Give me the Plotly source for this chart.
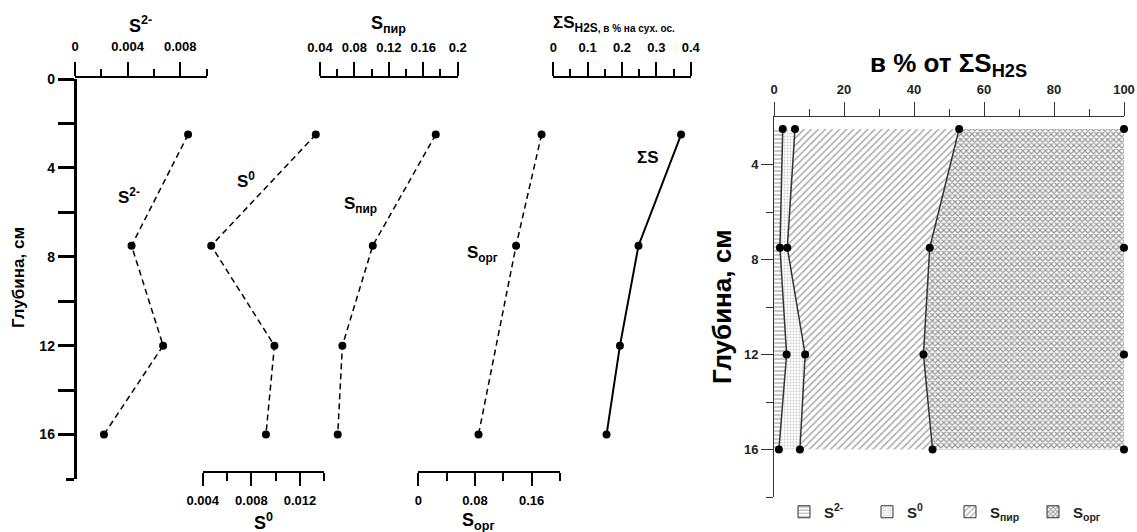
import plotly.graph_objects as go
import numpy as np

W, H = 1137, 532
def px(x): return x / W
def py(y): return 1 - y / H

FONT = "Arial, Liberation Sans, sans-serif"

# ---------------- data ----------------
depth = [2.5, 7.5, 12, 16]
s2 = [0.0086, 0.0043, 0.0067, 0.0022]          # S2-
s0 = [0.0133, 0.0047, 0.0099, 0.0092]          # S0
spir = [0.1745, 0.1013, 0.066, 0.0606]         # S pyr
sorg_depth = [2.5, 7.5, 16]
sorg = [0.174, 0.138, 0.085]                   # S org
ssum = [0.372, 0.248, 0.194, 0.155]            # sum S

pct_s2 = [2.5, 1.7, 3.6, 1.4]
pct_s0 = [3.5, 2.1, 5.3, 6.0]
pct_spir = [46.9, 40.7, 33.8, 37.9]
pct_sorg = [47.1, 55.5, 57.3, 54.7]

pct_names = ["S<sup>2-</sup>", "S<sup>0</sup>", "S<sub>пир</sub>", "S<sub>орг</sub>"]
patterns = [
    dict(shape="-", fgcolor="#444", bgcolor="white", size=4, solidity=0.3),
    dict(shape=".", fgcolor="#999", bgcolor="white", size=3, solidity=0.35),
    dict(shape="/", fgcolor="#555", bgcolor="white", size=5, solidity=0.3),
    dict(shape="x", fgcolor="#333", bgcolor="white", size=4, solidity=0.55),
]

fig = go.Figure()

dash_line = dict(color="black", width=1.5, dash="6px,4px")
mk = dict(color="black", size=8)

left_series = [(s2, depth, "x"), (s0, depth, "x2"), (spir, depth, "x3"), (sorg, sorg_depth, "x4")]
for xs, ys, ax in left_series:
    fig.add_trace(go.Scatter(x=xs, y=ys, xaxis=ax, yaxis="y", mode="lines+markers",
                             line=dash_line, marker=mk, showlegend=False, cliponaxis=False))
fig.add_trace(go.Scatter(x=ssum, y=depth, xaxis="x5", yaxis="y", mode="lines+markers",
                         line=dict(color="black", width=2), marker=mk, showlegend=False,
                         cliponaxis=False))

# ---------------- right stacked percentage plot ----------------
pcts = [pct_s2, pct_s0, pct_spir, pct_sorg]
for vals, pat in zip(pcts, patterns):
    fig.add_trace(go.Scatter(x=vals, y=depth, xaxis="x6", yaxis="y2", stackgroup="pct",
                             orientation="h", mode="none", fillcolor="white",
                             fillpattern=pat, showlegend=False))
cum = np.cumsum(np.array(pcts), axis=0)
for k in range(4):
    fig.add_trace(go.Scatter(x=cum[k], y=depth, xaxis="x6", yaxis="y2",
                             mode="lines+markers" if k < 3 else "markers",
                             line=dict(color="#333", width=1.5),
                             marker=dict(color="black", size=8),
                             showlegend=False, cliponaxis=False))
for name, pat in zip(pct_names, patterns):
    fig.add_trace(go.Bar(x=[None], y=[None], name=name, xaxis="x6", yaxis="y2",
                         marker=dict(color="white", pattern=pat,
                                     line=dict(color="#333", width=1))))

tickfont = dict(family=FONT, size=13, color="black", weight="bold")
base = dict(showline=True, linecolor="black", linewidth=2, ticks="outside", tickcolor="black",
            tickwidth=2, ticklen=14, showgrid=False, zeroline=False, tickfont=tickfont,
            fixedrange=True, tickangle=0)

def minor(vals, ln=7, w=2, c="black"):
    return dict(tickvals=vals, ticks="outside", ticklen=ln, tickwidth=w, tickcolor=c)

fig.update_layout(
    width=W, height=H, autosize=False,
    margin=dict(l=0, r=0, t=0, b=0, pad=0, autoexpand=False),
    paper_bgcolor="white", plot_bgcolor="rgba(0,0,0,0)",
    font=dict(family=FONT, color="black"),
    xaxis=dict(base, domain=[px(75), px(206.5)], range=[0, 0.01], side="top", anchor="free",
               position=py(76.5), tickvals=[0, 0.004, 0.008], ticktext=["0", "0.004", "0.008"],
               ticklabelstandoff=5, minor=minor([0.002, 0.006, 0.01])),
    xaxis2=dict(base, domain=[px(202.7), px(324.3)], range=[0.004, 0.014], side="bottom",
                anchor="free", position=py(472), ticklen=13, ticklabelstandoff=3,
                tickvals=[0.004, 0.008, 0.012], ticktext=["0.004", "0.008", "0.012"],
                minor=minor([0.006, 0.01, 0.014], 8)),
    xaxis3=dict(base, domain=[px(320), px(457.7)], range=[0.04, 0.2], side="top", anchor="free",
                position=py(77), tickvals=[0.04, 0.08, 0.12, 0.16, 0.2],
                ticktext=["0.04", "0.08", "0.12", "0.16", "0.2"], ticklabelstandoff=5,
                minor=minor([0.06, 0.1, 0.14, 0.18])),
    xaxis4=dict(base, domain=[px(418.3), px(560)], range=[0, 0.2], side="bottom", anchor="free",
                position=py(472), ticklen=13, tickvals=[0, 0.08, 0.16], ticklabelstandoff=3,
                ticktext=["0", "0.08", "0.16"], minor=minor([0.04, 0.12, 0.2], 8)),
    xaxis5=dict(base, domain=[px(553.3), px(690.7)], range=[0, 0.4], side="top", anchor="free",
                position=py(77), tickvals=[0, 0.1, 0.2, 0.3, 0.4],
                ticktext=["0", "0.1", "0.2", "0.3", "0.4"], ticklabelstandoff=5,
                minor=minor([0.05, 0.15, 0.25, 0.35])),
    yaxis=dict(base, domain=[py(479), py(79)], range=[18, 0], anchor="free", position=px(74.5),
               linewidth=2.5, tickwidth=2.5, ticklen=16,
               tickvals=[0, 2, 4, 6, 8, 10, 12, 14, 16],
               ticktext=["0", "", "4", "", "8", "", "12", "", "16"],
               tickfont=dict(family=FONT, size=14, color="black", weight="bold"),
               minor=minor([18], 8, 2.5)),
    xaxis6=dict(base, domain=[px(774), px(1124)], range=[0, 100], side="top", anchor="y2",
                linewidth=1, linecolor="#333", tickwidth=1, tickcolor="#333", ticklen=14,
                tickvals=[0, 20, 40, 60, 80, 100], ticklabelstandoff=3,
                tickfont=dict(family=FONT, size=13, color="#222", weight="bold"),
                minor=minor([10, 30, 50, 70, 90], 7, 1, "#333")),
    yaxis2=dict(base, domain=[py(497), py(117)], range=[18, 2], side="left", anchor="x6",
                linewidth=1, linecolor="#333", tickwidth=1, tickcolor="#333", ticklen=12,
                tickvals=[4, 8, 12, 16],
                tickfont=dict(family=FONT, size=13, color="#222", weight="bold"),
                minor=minor([6, 10, 14, 18], 7, 1, "#333")),
    legend=dict(orientation="h", x=px(784), y=py(512), xanchor="left", yanchor="middle",
                traceorder="normal",
                font=dict(family=FONT, size=15, color="#222", weight="bold"),
                entrywidth=38, entrywidthmode="pixels", bgcolor="rgba(0,0,0,0)"),
    showlegend=True,
)

def ann(text, x, y, size, angle=0, xanchor="center", weight="bold", color="black"):
    fig.add_annotation(text=text, x=px(x), y=py(y), xref="paper", yref="paper",
                       showarrow=False, textangle=angle, xanchor=xanchor, yanchor="middle",
                       font=dict(family=FONT, size=size, color=color, weight=weight))

# axis titles
ann("S<sup>2-</sup>", 140, 24, 18)
ann("S<sub>пир</sub>", 388, 24, 18)
ann("ΣS<sub>H2S<span style='font-size:10px'>, в % на сух. ос.</span></sub>", 551, 24, 17,
    xanchor="left")
ann("S<sup>0</sup>", 263, 521, 18)
ann("S<sub>орг</sub>", 478, 521, 18)
ann("Глубина, см", 18, 278, 17, angle=-90)

# curve labels
ann("S<sup>2-</sup>", 129, 196, 17)
ann("S<sup>0</sup>", 246, 180, 17)
ann("S<sub>пир</sub>", 360, 205, 17)
ann("S<sub>орг</sub>", 482, 254, 17)
ann("ΣS", 648, 157, 17)

# right plot titles
ann("в % от ΣS<sub>H2S</sub>", 948, 64, 26)
ann("Глубина, см", 722, 307, 26, angle=-90)

fig.write_html("out.html", config={"displayModeBar": False},
               post_script="document.body.style.margin='0';")
